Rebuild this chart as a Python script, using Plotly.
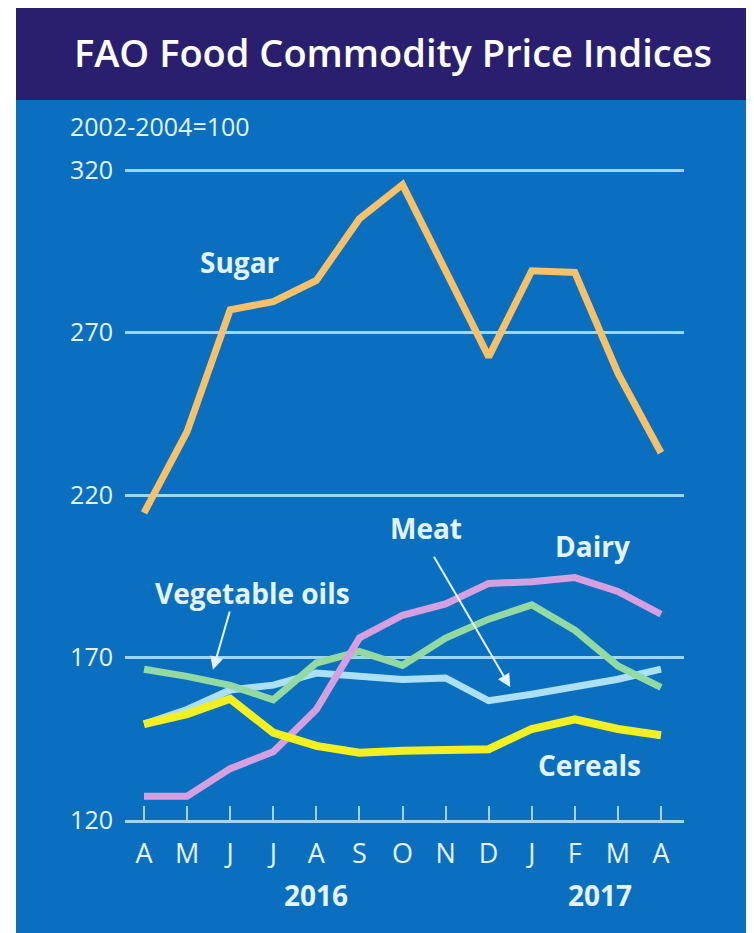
import plotly.graph_objects as go

months = ["A", "M", "J", "J", "A", "S", "O", "N", "D", "J", "F", "M", "A"]
x_idx = list(range(len(months)))

sugar = [214.5, 239.5, 277.0, 279.5, 286.0, 305.0, 315.5, 288.5, 262.5, 289.0, 288.5, 257.5, 233.0]
dairy = [127.3, 127.3, 135.8, 141.0, 154.0, 176.0, 183.0, 186.5, 192.8, 193.3, 194.6, 190.3, 183.3]
veg_oils = [166.4, 164.2, 161.4, 157.0, 168.3, 171.9, 167.6, 176.0, 181.8, 186.2, 178.4, 167.4, 160.8]
meat = [149.5, 154.0, 160.0, 161.5, 165.2, 164.4, 163.2, 163.7, 156.7, 158.7, 160.8, 163.3, 166.4]
cereals = [149.5, 152.6, 157.3, 146.9, 142.8, 140.7, 141.3, 141.3, 141.8, 148.0, 151.0, 148.0, 146.1]

y_ticks = [120, 170, 220, 270, 320]
title_text = "FAO Food Commodity Price Indices"
unit_text = "2002-2004=100"
years = ["2016", "2017"]

BLUE = "#0b6fbf"
NAVY = "#2a1f6e"
GRID = "#9fd6f6"
TXT = "#e4f4ff"
FONT = "Open Sans"

series = [
    ("Sugar", sugar, "#f6c169", 7),
    ("Meat", meat, "#ace0f6", 7),
    ("Vegetable oils", veg_oils, "#93d9a2", 7),
    ("Dairy", dairy, "#d59fe0", 7),
    ("Cereals", cereals, "#f3f022", 8),
]

fig = go.Figure()
for name, vals, col, w in series:
    fig.add_trace(go.Scatter(x=x_idx, y=vals, mode="lines", name=name,
                             line=dict(color=col, width=w), showlegend=False,
                             hoverinfo="skip"))

# page has an 8px body margin; figure is placed at (8, 8)
OFF = 8
W, H = 754 - OFF, 933 - OFF
# plot area in page pixels
L_pg, R_pg, T_pg, B_pg = 125, 684, 160, 820
L, R, T, B = L_pg - OFF, R_pg - OFF, T_pg - OFF, B_pg - OFF


def px(xp):
    return (xp - OFF - L) / (R - L)


def py(yp):
    return (B - (yp - OFF)) / (B - T)


shapes = [
    # white left margin of the panel
    dict(type="rect", xref="paper", yref="paper", x0=px(-5), x1=px(16), y0=py(940), y1=py(-5),
         fillcolor="white", line=dict(width=0), layer="below"),
    # navy title band
    dict(type="rect", xref="paper", yref="paper", x0=px(16), x1=px(760), y0=py(100), y1=py(-5),
         fillcolor=NAVY, line=dict(width=0), layer="below"),
]

label_font = dict(family=FONT, size=28, color=TXT, weight=700)

annotations = [
    dict(text=title_text, xref="paper", yref="paper", x=px(393), y=py(52),
         xanchor="center", yanchor="middle", showarrow=False,
         font=dict(family=FONT, size=38, color="white", weight=600)),
    dict(text=unit_text, xref="paper", yref="paper", x=px(68), y=py(126),
         xanchor="left", yanchor="middle", showarrow=False,
         font=dict(family=FONT, size=25, color=TXT)),
    dict(text="Sugar", x=2.23, y=291.7, showarrow=False, font=label_font,
         xanchor="center", yanchor="middle"),
    dict(text="Vegetable oils", x=2.51, y=189.8, showarrow=False, font=label_font,
         xanchor="center", yanchor="middle"),
    dict(text="Meat", x=6.55, y=209.8, showarrow=False, font=label_font,
         xanchor="center", yanchor="middle"),
    dict(text="Dairy", x=10.40, y=204.3, showarrow=False, font=label_font,
         xanchor="center", yanchor="middle"),
    dict(text="Cereals", x=10.35, y=136.9, showarrow=False, font=label_font,
         xanchor="center", yanchor="middle"),
    # arrows
    dict(text="", x=1.60, y=166.2, ax=2.0, ay=184.6, axref="x", ayref="y",
         showarrow=True, arrowhead=2, arrowsize=1.3, arrowwidth=2, arrowcolor=TXT),
    dict(text="", x=8.50, y=160.9, ax=6.71, ay=201.5, axref="x", ayref="y",
         showarrow=True, arrowhead=2, arrowsize=1.3, arrowwidth=2, arrowcolor=TXT),
    # years
    dict(text=years[0], x=4.0, y=py(895), yref="paper", showarrow=False,
         xanchor="center", yanchor="middle",
         font=dict(family=FONT, size=28, color=TXT, weight=700)),
    dict(text=years[1], x=10.58, y=py(895), yref="paper", showarrow=False,
         xanchor="center", yanchor="middle",
         font=dict(family=FONT, size=28, color=TXT, weight=700)),
]

x0r = -19 / 43.08
x1r = 12 + 23 / 43.08
y1r = 320 + (170 - T_pg) / 3.25

fig.update_layout(
    width=W, height=H,
    margin=dict(l=L, r=W - R, t=T, b=H - B, pad=0),
    paper_bgcolor=BLUE, plot_bgcolor=BLUE,
    shapes=shapes, annotations=annotations,
    xaxis=dict(range=[x0r, x1r], tickvals=x_idx, ticktext=months,
               showgrid=False, zeroline=False, showline=True, linecolor=GRID, linewidth=3,
               ticks="inside", ticklen=14, tickwidth=2, tickcolor=GRID,
               tickfont=dict(family=FONT, size=27, color=TXT), ticklabelstandoff=8),
    yaxis=dict(range=[120, y1r], tickvals=y_ticks, ticktext=[str(v) for v in y_ticks],
               showgrid=True, gridcolor=GRID, gridwidth=3, zeroline=False, showline=False,
               ticks="", tickfont=dict(family=FONT, size=25, color=TXT), ticklabelstandoff=11),
    font=dict(family=FONT),
)

fig.write_html("out.html")
